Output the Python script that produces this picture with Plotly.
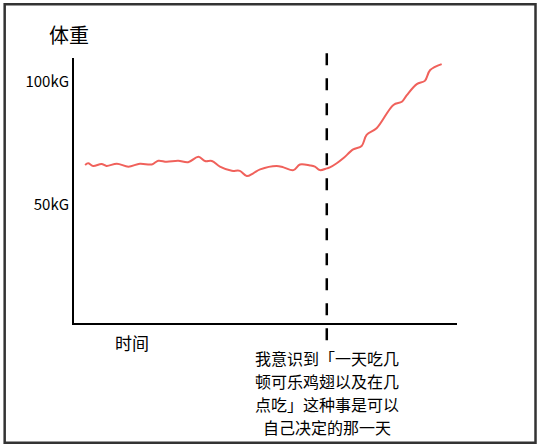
import plotly.graph_objects as go

# hand-read weight curve (time 0-100, weight in kg)
time = [2.9, 3.7, 5.0, 7.2, 8.5, 11.2, 14.2, 17.2, 20.3, 22.0, 24.2, 27.2, 29.8,
        32.5, 34.2, 36.0, 38.1, 41.2, 43.3, 45.1, 46.8, 48.6, 52.9, 54.7, 57.3,
        59.0, 61.6, 62.9, 64.2, 66.0, 66.8, 68.6, 70.3, 72.9, 75.1, 76.4, 79.0,
        83.4, 85.6, 86.9, 89.5, 91.6, 93.0, 96.0]
weight = [66.3, 67.0, 65.9, 66.7, 65.9, 66.8, 65.6, 66.8, 66.5, 68.0, 67.6, 68.0, 67.4,
          69.6, 67.9, 67.9, 65.6, 63.9, 63.9, 61.8, 62.9, 64.5, 65.9, 65.3, 64.2,
          66.5, 66.1, 65.6, 64.2, 64.9, 65.3, 67.0, 69.0, 72.6, 74.0, 78.5, 81.2,
          90.7, 92.0, 94.7, 99.2, 100.5, 104.9, 107.3]

tick_vals = [50, 100]
tick_text = ["50kG", "100kG"]
event_time = 66
note_lines = ["我意识到「一天吃几",
              "顿可乐鸡翅以及在几",
              "点吃」这种事是可以",
              "自己决定的那一天"]

FONT = "Noto Sans CJK SC"
PLOT_H = 265  # plot area height in px, used to space the note lines

fig = go.Figure()
fig.add_trace(go.Scatter(
    x=time, y=weight,
    mode='lines',
    line=dict(color='#f0615b', width=2, shape='spline', smoothing=1.0),
    hoverinfo='skip',
    showlegend=False
))

# dashed marker for the moment of realisation
fig.add_shape(type='line', xref='x', yref='paper',
              x0=event_time, x1=event_time, y0=-0.065, y1=1.053,
              line=dict(color='black', width=2.5, dash='12px,13px'))

# outer frame
fig.add_shape(type='rect', xref='paper', yref='paper',
              x0=-0.181, x1=1.205, y0=-0.452, y1=1.203,
              line=dict(color='#333333', width=2.5))

fig.add_annotation(text="体重", xref='paper', yref='paper', x=-0.013, y=1.087,
                   showarrow=False, xanchor='center', yanchor='middle',
                   font=dict(family=FONT, size=20, color='black'))
fig.add_annotation(text="时间", xref='paper', yref='paper', x=0.151, y=-0.075,
                   showarrow=False, xanchor='center', yanchor='middle',
                   font=dict(family=FONT, size=17, color='black'))
for i, line in enumerate(note_lines):
    fig.add_annotation(text=line, xref='x', yref='paper',
                       x=event_time, y=-(35 + 23 * i) / PLOT_H,
                       showarrow=False, xanchor='center', yanchor='middle',
                       font=dict(family=FONT, size=16, color='black'))

fig.update_layout(
    width=541, height=448,
    margin=dict(l=74, r=84, t=58, b=125),
    paper_bgcolor='white', plot_bgcolor='white',
    font=dict(family=FONT, color='black'),
    xaxis=dict(range=[0, 100], showgrid=False, zeroline=False,
               showticklabels=False, ticks='',
               showline=True, linecolor='black', linewidth=2),
    yaxis=dict(range=[2, 109.8], showgrid=False, zeroline=False,
               tickvals=tick_vals, ticktext=tick_text, ticks='',
               tickfont=dict(family=FONT, size=15, color='black'),
               showline=True, linecolor='black', linewidth=2),
)

fig.write_html("out.html", config={'displayModeBar': False},
               post_script="document.body.style.margin='0';document.body.style.overflow='hidden';")
